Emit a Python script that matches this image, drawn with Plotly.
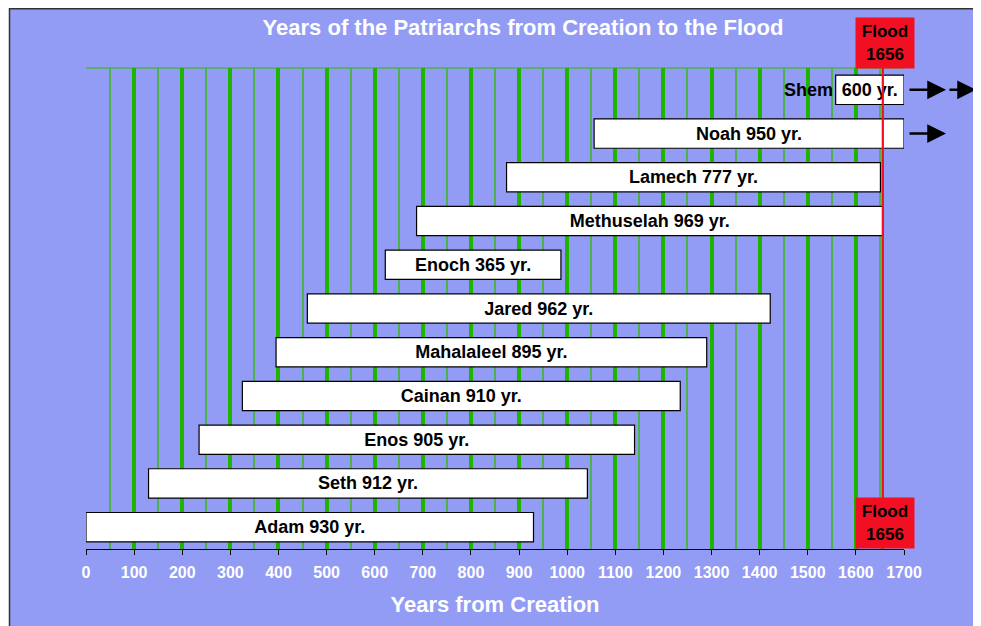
import plotly.graph_objects as go

# ---- data ----
names = ["Adam", "Seth", "Enos", "Cainan", "Mahalaleel", "Jared", "Enoch",
         "Methuselah", "Lamech", "Noah", "Shem"]
born = [0, 130, 235, 325, 395, 460, 622, 687, 874, 1056, 1558]
lifespans = [930, 912, 905, 910, 895, 962, 365, 969, 777, 950, 600]
flood_year = 1656
x_max = 1700
tick_vals = list(range(0, 1701, 100))

# ---- styling ----
BG = "#939cf5"
GREEN = "#1fb400"
GREEN_THIN = "#4cb34a"
RED = "#f20f22"
FONT = "Liberation Sans, Arial, sans-serif"

OFF = 8                      # page body margin
W, H = 981 - OFF, 626 - OFF
# desired plot area in window pixels: x 86..904, y 68..549
ML, MT = 86 - OFF, 68 - OFF
MR, MB = W - (904 - OFF), H - (549 - OFF)
PW, PH = W - ML - MR, H - MT - MB

def px_to_paper_x(px):
    return (px - OFF - ML) / PW

def px_to_paper_y(py):
    return (H - MB - (py - OFF)) / PH

ypos = list(range(len(names)))
shown = [min(b + l, x_max) - b for b, l in zip(born, lifespans)]
texts = []
for n, l in zip(names, lifespans):
    texts.append(f"{l} yr." if n == "Shem" else f"{n} {l} yr.")

fig = go.Figure()
fig.add_trace(go.Bar(
    y=ypos, x=shown, base=born, orientation="h",
    width=0.67,
    marker=dict(color="white", line=dict(color="black", width=1.2)),
    text=texts, textposition="inside", insidetextanchor="middle",
    constraintext="none", textangle=0,
    textfont=dict(family=FONT, size=18, color="black", weight="bold"),
    hoverinfo="skip", showlegend=False,
))

FX, FY = 9.5, 8.8   # frame position (window px)
shapes = [
    dict(type="rect", xref="paper", yref="paper",
         x0=px_to_paper_x(0), x1=px_to_paper_x(FX),
         y0=px_to_paper_y(700), y1=px_to_paper_y(0),
         fillcolor="white", line=dict(width=0), layer="below"),
    dict(type="rect", xref="paper", yref="paper",
         x0=px_to_paper_x(0), x1=px_to_paper_x(1100),
         y0=px_to_paper_y(FY), y1=px_to_paper_y(0),
         fillcolor="white", line=dict(width=0), layer="below"),
    dict(type="rect", xref="paper", yref="paper",
         x0=px_to_paper_x(FX), x1=px_to_paper_x(1100),
         y0=px_to_paper_y(700), y1=px_to_paper_y(FY),
         fillcolor="rgba(0,0,0,0)", line=dict(color="#333333", width=1.5), layer="below"),
    dict(type="line", xref="paper", yref="paper", x0=0, x1=1, y0=1, y1=1,
         line=dict(color=GREEN_THIN, width=1.5), layer="below"),
    dict(type="line", xref="x", yref="paper", x0=flood_year, x1=flood_year,
         y0=0, y1=1, line=dict(color=RED, width=2.2), layer="above"),
]

annotations = []
for yv in (px_to_paper_y(42.5), px_to_paper_y(523)):
    annotations.append(dict(
        x=flood_year, xref="x", xshift=2, y=yv, yref="paper",
        text=f"Flood<br>{flood_year}", showarrow=False,
        bgcolor=RED, width=58, height=50, borderpad=0,
        font=dict(family=FONT, size=17, color="black", weight="bold"),
        xanchor="center", yanchor="middle",
    ))

shem_i = names.index("Shem")
noah_i = names.index("Noah")
annotations.append(dict(
    x=born[shem_i], xref="x", y=shem_i, yref="y", text="Shem",
    showarrow=False, xanchor="right", xshift=-1,
    font=dict(family=FONT, size=18, color="black", weight="bold"),
))

def arrow(y, head_px, tail_px):
    return dict(x=px_to_paper_x(head_px), xref="paper", y=y, yref="y",
                ax=tail_px - head_px, ay=0, axref="pixel", ayref="pixel",
                text="", showarrow=True, arrowhead=2, arrowsize=1.5,
                arrowwidth=2.5, arrowcolor="black", standoff=0)

annotations.append(arrow(noah_i, 946, 908))
annotations.append(arrow(shem_i, 946, 908))
annotations.append(arrow(shem_i, 976, 948))

fig.update_layout(
    width=W, height=H,
    margin=dict(l=ML, r=MR, t=MT, b=MB, pad=0, autoexpand=False),
    paper_bgcolor=BG, plot_bgcolor=BG,
    title=dict(text="Years of the Patriarchs from Creation to the Flood",
               x=px_to_paper_x(523), xref="paper", xanchor="center",
               y=1 - (27 - OFF) / H, yanchor="middle",
               font=dict(family=FONT, size=22, color="white", weight="bold")),
    shapes=shapes, annotations=annotations,
    bargap=0.33,
    xaxis=dict(
        range=[0, x_max], tickvals=tick_vals, ticktext=[str(v) for v in tick_vals],
        showgrid=True, gridcolor=GREEN, gridwidth=3.5,
        zeroline=False, automargin=False,
        minor=dict(dtick=50, showgrid=True, gridcolor=GREEN_THIN, gridwidth=1.8, ticks=""),
        showline=True, linecolor="black", linewidth=1.2,
        ticks="outside", ticklen=5, tickcolor="black", tickwidth=1,
        ticklabelstandoff=4,
        tickfont=dict(family=FONT, size=16, color="white", weight="bold"),
        title=dict(text="Years from Creation", standoff=16,
                   font=dict(family=FONT, size=22, color="white", weight="bold")),
        fixedrange=True,
    ),
    yaxis=dict(range=[-0.5, len(names) - 0.5], showgrid=False, zeroline=False,
               automargin=False,
               showticklabels=False, ticks="", showline=False, fixedrange=True),
)

fig.write_html("out.html")
